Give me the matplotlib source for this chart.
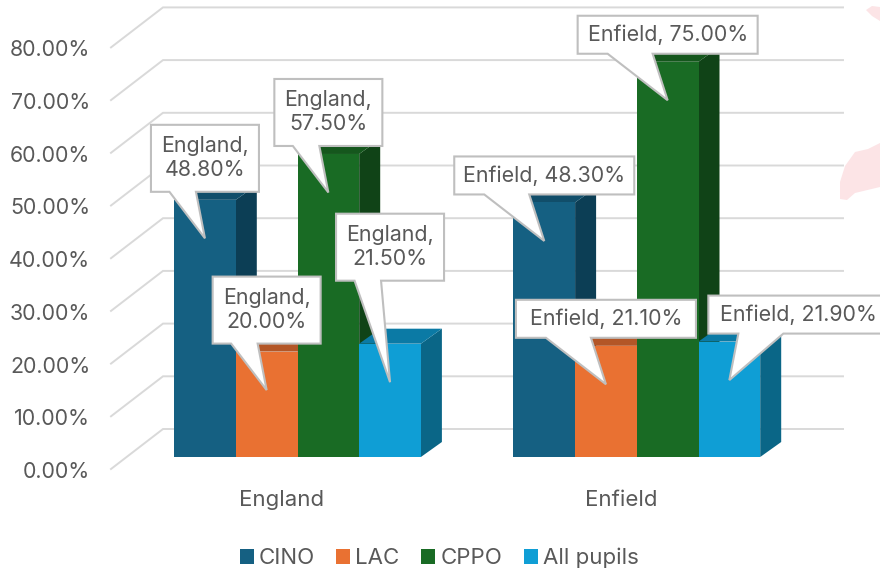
import matplotlib
matplotlib.use('Agg')
import matplotlib.pyplot as plt
from matplotlib.patches import Polygon, Patch

plt.rcParams['font.family'] = ['Inter', 'DejaVu Sans']

categories = ['England', 'Enfield']
series_names = ['CINO', 'LAC', 'CPPO', 'All pupils']
cino = [48.8, 48.3]
lac = [20.0, 21.1]
cppo = [57.5, 75.0]
all_pupils = [21.5, 21.9]
y_ticks = [0, 10, 20, 30, 40, 50, 60, 70, 80]

front_colors = ['#156082', '#E97132', '#196B24', '#0F9ED5']
top_colors = ['#114E6A', '#B35627', '#15571D', '#0B7AA5']
side_colors = ['#0C3E55', '#9A4A20', '#104317', '#0A6687']
TEXT = '#595959'
GRID = '#D9D9D9'
EDGE = '#BFBFBF'
FS = 15.4
FS_LABEL = 16

W, H = 880, 569
PX_X = 1 / 339.3   # x data units per pixel
PX_Y = 1 / 5.27    # y data units per pixel
BAR_W = 61.7 * PX_X
DEPTH_X, DEPTH_Y = 21 * PX_X, 15 * PX_Y

fig = plt.figure(figsize=(W / 100, H / 100), dpi=100, facecolor='white')

# main axes: bars sit on this plane, y=0 at pixel row 457
ax = fig.add_axes([111 / W, 1 - 457 / H, (843 - 111) / W, 80 * 5.27 / H])
ax.set_xlim((111 - 297.5) * PX_X, (843 - 297.5) * PX_X)
ax.set_ylim(0, 80)
ax.patch.set_alpha(0)
for s in ax.spines.values():
    s.set_visible(False)

# wall axes only carries the value labels, its plane is in front of the bars
yax = fig.add_axes([111 / W, 1 - 470 / H, 10 / W, 80 * 5.27 / H], zorder=-1)
yax.set_ylim(0, 80)
yax.set_xticks([])
yax.set_yticks(y_ticks)
yax.set_yticklabels(['%.2f%%' % v for v in y_ticks], fontsize=FS, color=TEXT)
yax.tick_params(axis='y', length=0, pad=15)
yax.patch.set_alpha(0)
for s in yax.spines.values():
    s.set_visible(False)

# faint shapes behind the right edge
ax.add_patch(Polygon([((x - 297.5) * PX_X, (457 - y) * PX_Y) for x, y in
                      [(880, 7), (872, 6), (866, 10), (872, 16), (880, 21)]],
                     fc='#FCE4E6', ec='none', clip_on=False, zorder=0))
ax.add_patch(Polygon([((x - 297.5) * PX_X, (457 - y) * PX_Y) for x, y in
                      [(880, 143), (868, 149), (855, 152), (845, 166), (840, 182), (840, 199), (847, 200),
                       (855, 193), (880, 187)]],
                     fc='#FCE4E6', ec='none', clip_on=False, zorder=0))

# floor and wall gridlines
for v in y_ticks:
    front_y = v - 12 * PX_Y
    back_y = v + 28 * PX_Y
    back_x = (163 - 297.5) * PX_X
    ax.plot([(111 - 297.5) * PX_X, back_x, (843 - 297.5) * PX_X], [front_y, back_y, back_y],
            color=GRID, lw=1.4, clip_on=False, zorder=1, solid_joinstyle='miter')

series = [cino, lac, cppo, all_pupils]

# bars drawn left to right so that each one hides the side of the previous
z = 2
for c in range(len(categories)):
    for i, vals in enumerate(series):
        v = vals[c]
        left = c + (i - 2) * BAR_W
        right = left + BAR_W
        ax.add_patch(Polygon([(right, 0), (right + DEPTH_X, DEPTH_Y),
                              (right + DEPTH_X, v + DEPTH_Y), (right, v)],
                             fc=side_colors[i], ec='none', clip_on=False, zorder=z))
        ax.add_patch(Polygon([(left, v), (right, v), (right + DEPTH_X, v + DEPTH_Y),
                              (left + DEPTH_X, v + DEPTH_Y)],
                             fc=top_colors[i], ec='none', clip_on=False, zorder=z))
        ax.bar(left, v, BAR_W, align='edge', color=front_colors[i], lw=0, zorder=z + 0.5, clip_on=False)
        z += 1

ax.set_xticks([c - 16 * PX_X for c in range(len(categories))])
ax.set_xticklabels(categories, fontsize=FS_LABEL, color=TEXT)
ax.tick_params(axis='x', length=0, pad=24)
ax.set_yticks([])


def callout(cat, i, value, two_lines, shift=None, lift=0):
    # speech box above a point 38px under the bar top
    tip_x = cat + (i - 1.5) * BAR_W
    tip_y = value - 38.5 * PX_Y
    name = categories[cat]
    if two_lines:
        text = '%s,\n%.2f%%' % (name, value)
        w, h, t0, t1 = 108, 67, 18.5, 45
    else:
        text = '%s, %.2f%%' % (name, value)
        w, h, t0, t1 = 180, 38, 30, 75
    left = tip_x - (w / 2 if shift is None else shift) * PX_X
    right = left + w * PX_X
    bottom = tip_y + (46.5 + lift) * PX_Y
    top = bottom + h * PX_Y
    pts = [(left, bottom), (left + t0 * PX_X, bottom), (tip_x, tip_y), (left + t1 * PX_X, bottom),
           (right, bottom), (right, top), (left, top)]
    ax.add_patch(Polygon(pts, closed=True, fc='white', ec=EDGE, lw=1.5, clip_on=False, zorder=40,
                         joinstyle='miter'))
    ax.text((left + right) / 2, (bottom + top) / 2, text, ha='center', va='center', fontsize=FS,
            color=TEXT, linespacing=1.25, zorder=41, clip_on=False)


callout(0, 0, cino[0], True)
callout(0, 1, lac[0], True)
callout(0, 2, cppo[0], True)
callout(0, 3, all_pupils[0], True, lift=55)
callout(1, 0, cino[1], False)
callout(1, 1, lac[1], False)
callout(1, 2, cppo[1], False)
callout(1, 3, all_pupils[1], False, shift=21)

handles = [Patch(fc=front_colors[i], ec='none', label=series_names[i]) for i in range(4)]
fig.legend(handles=handles, loc='center', bbox_to_anchor=(439 / W, 1 - 558 / H), ncols=4, frameon=False,
           fontsize=FS_LABEL, labelcolor=TEXT, handlelength=0.63, handleheight=0.63, handletextpad=0.22,
           columnspacing=0.98, borderpad=0, borderaxespad=0)

fig.savefig('out.png', dpi=100)
